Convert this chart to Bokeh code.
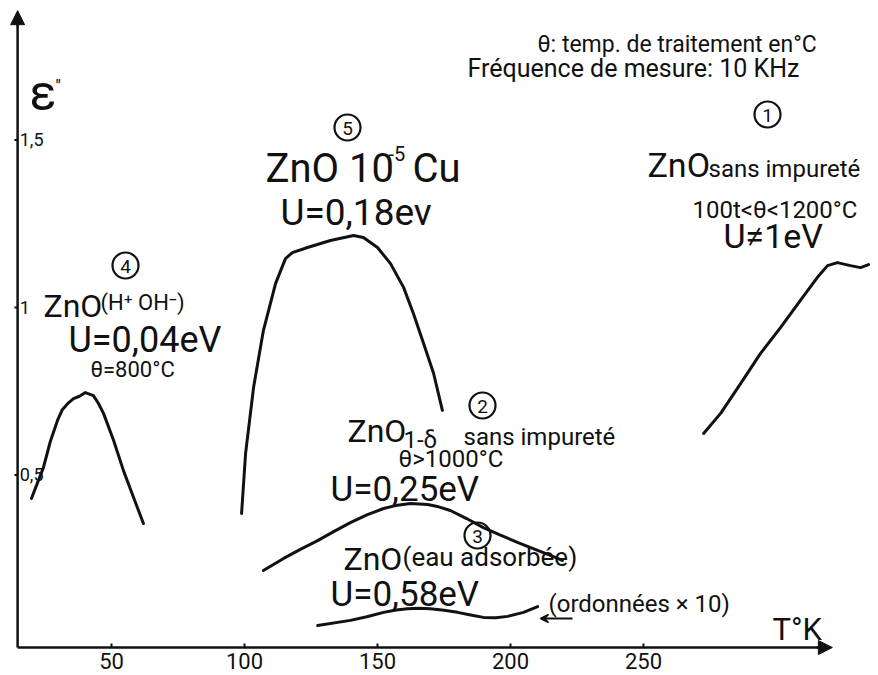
from bokeh.plotting import figure
from bokeh.models import Label, Arrow, NormalHead, VeeHead
from bokeh.embed import file_html
from bokeh.resources import INLINE

# ---------------- data ----------------
# curve 1 : ZnO sans impureté
t1 = [272.6, 279.0, 286.5, 294.0, 301.5, 309.0, 315.4, 319.2, 322.9, 327.8, 331.6, 334.6]
e1 = [0.624, 0.684, 0.773, 0.863, 0.940, 1.021, 1.090, 1.125, 1.134, 1.125, 1.119, 1.128]
# curve 2 : ZnO1-d sans impureté
t2 = [107.1, 114.7, 121.0, 127.5, 133.5, 139.8, 146.0, 152.3, 157.5, 162.4, 168.8, 173.0,
      177.4, 183.5, 189.8, 196.0, 202.6, 209.0, 215.0, 219.5]
e2 = [0.215, 0.251, 0.278, 0.304, 0.331, 0.358, 0.381, 0.400, 0.410, 0.415, 0.412, 0.405,
      0.394, 0.370, 0.343, 0.321, 0.299, 0.279, 0.260, 0.245]
# curve 3 : ZnO (eau adsorbée)  (ordonnées x 10)
t3 = [127.5, 139.8, 146.0, 152.3, 157.0, 161.3, 165.5, 169.9, 175.0, 180.1, 185.0, 189.8,
      194.5, 198.9, 204.9, 210.2]
e3 = [0.051, 0.066, 0.077, 0.090, 0.097, 0.101, 0.102, 0.101, 0.096, 0.090, 0.082, 0.075,
      0.074, 0.078, 0.090, 0.107]
# curve 4 : ZnO (H+ OH-)
t4 = [19.9, 24.4, 27.0, 29.7, 31.5, 33.5, 35.7, 38.0, 40.2, 43.2, 45.0, 47.0, 50.8, 54.5,
      58.3, 62.0]
e4 = [0.430, 0.522, 0.600, 0.663, 0.695, 0.713, 0.728, 0.735, 0.746, 0.737, 0.715, 0.684,
      0.603, 0.513, 0.433, 0.355]
# curve 5 : ZnO 10^-5 Cu
t5 = [98.9, 100.4, 103.4, 107.1, 111.7, 115.4, 118.0, 123.7, 132.3, 141.0, 144.7,
      150.0, 154.9, 159.8, 163.5, 167.3, 171.1, 174.4]
e5 = [0.385, 0.564, 0.761, 0.931, 1.072, 1.146, 1.164, 1.179, 1.200, 1.215, 1.209,
      1.179, 1.131, 1.060, 0.982, 0.893, 0.803, 0.693]

xticks = [50, 100, 150, 200, 250]
xtick_labels = ["50", "100", "150", "200", "250"]
yticks = [0.5, 1.0, 1.5]
ytick_labels = ["0,5", "1", "1,5"]

# ---------------- layout ----------------
W, H = 878, 675
X0, X1 = 8.27, 338.35
Y0, Y1 = -0.0985, 1.9164
XA, YA = 14.7, -0.015        # axis origin
XEND, YEND = 321.0, 1.886    # arrow tips

FONT = "Roboto"
INK = "#111111"
MID = 0.36                   # baseline -> middle shift, fraction of font size

p = figure(width=W, height=H, x_range=(X0, X1), y_range=(Y0, Y1),
           output_backend="svg", toolbar_location=None, min_border=0)
p.axis.visible = False
p.grid.visible = False
p.outline_line_color = None
p.background_fill_color = "white"


def dx(px):
    return X0 + px / W * (X1 - X0)


def dy(py):
    return Y1 - py / H * (Y1 - Y0)


def lab(text, px, py, size, align="left", baseline="alphabetic"):
    if baseline == "alphabetic":
        py = py - MID * size
    p.add_layout(Label(x=px, y=H - py, x_units="screen", y_units="screen",
                       text=text, text_font=FONT, text_font_size=f"{size}px",
                       text_color=INK, text_align=align, text_baseline="middle"))


# axes
p.line([XA, XEND - 2], [YA, YA], line_width=2.5, line_color=INK)
p.line([XA, XA], [YA, YEND - 0.02], line_width=2.5, line_color=INK)
p.add_layout(Arrow(x_start=XEND - 6, y_start=YA, x_end=XEND, y_end=YA, line_width=2,
                   line_color=INK,
                   end=NormalHead(size=14, fill_color=INK, line_color=INK)))
p.add_layout(Arrow(x_start=XA, y_start=YEND - 0.05, x_end=XA, y_end=YEND, line_width=2,
                   line_color=INK,
                   end=NormalHead(size=14, fill_color=INK, line_color=INK)))

# ticks
p.segment(x0=xticks, y0=[YA] * len(xticks), x1=xticks, y1=[YA + 0.012] * len(xticks),
          line_width=2, line_color=INK)
p.segment(x0=[XA - 1.2] * len(yticks), y0=yticks, x1=[XA] * len(yticks), y1=yticks,
          line_width=2, line_color=INK)
for t, s in zip(xticks, xtick_labels):
    p.add_layout(Label(x=t, y=H - 660, x_units="data", y_units="screen", text=s,
                       text_font=FONT, text_font_size="22px", text_color=INK,
                       text_align="center", text_baseline="middle"))
for v, s in zip(yticks, ytick_labels):
    p.add_layout(Label(x=XA + 0.8, y=v, x_units="data", y_units="data", text=s,
                       text_font=FONT, text_font_size="18px", text_color=INK,
                       text_align="left", text_baseline="middle"))

# curves
for t, e in [(t1, e1), (t2, e2), (t3, e3), (t4, e4), (t5, e5)]:
    p.line(t, e, line_width=3, line_color=INK, line_join="round", line_cap="round")

# circled numbers
circ = [("1", 767, 114), ("2", 482, 405), ("3", 477, 535), ("4", 125, 265), ("5", 347, 127)]
p.scatter([dx(c[1]) for c in circ], [dy(c[2]) for c in circ], marker="circle", size=26,
          fill_color=None, line_color=INK, line_width=2.2)
for n, cx, cy in circ:
    lab(n, cx, cy + 1, 19, align="center", baseline="middle")

# axis titles
lab("ε", 29, 110, 50)
lab("''", 55, 92, 18)
lab("T°K", 772, 640, 31)

# header notes
lab("θ: temp. de traitement en°C", 537, 52, 23)
lab("Fréquence de mesure: 10 KHz", 467, 77, 25)

# curve 5
lab("ZnO 10", 265, 182, 40)
lab("-5", 388, 160, 20)
lab("Cu", 412, 182, 40)
lab("U=0,18ev", 280, 225, 37)

# curve 1
lab("ZnO", 647, 177, 34)
lab("sans impureté", 708, 177, 24)
lab("100t<θ<1200°C", 692, 218, 24)
lab("U≠1eV", 723, 248, 34)

# curve 4
lab("ZnO", 43, 317, 32)
lab("(H⁺ OH⁻)", 100, 310, 22)
lab("U=0,04eV", 68, 352, 36)
lab("θ=800°C", 90, 377, 22)

# curve 2
lab("ZnO", 347, 442, 32)
lab("1-δ", 403, 448, 24)
lab("sans impureté", 463, 445, 24)
lab("θ>1000°C", 398, 467, 24)
lab("U=0,25eV", 330, 502, 35)

# curve 3
lab("ZnO", 343, 570, 32)
lab("(eau adsorbée)", 402, 566, 26)
lab("U=0,58eV", 330, 607, 35)
lab("(ordonnées × 10)", 548, 612, 24)
p.add_layout(Arrow(x_start=dx(572), y_start=dy(618), x_end=dx(540), y_end=dy(618),
                   line_width=1.8, line_color=INK,
                   end=VeeHead(size=8, fill_color=INK, line_color=INK, line_width=1.5)))

open("out.html", "w").write(file_html(p, INLINE))
